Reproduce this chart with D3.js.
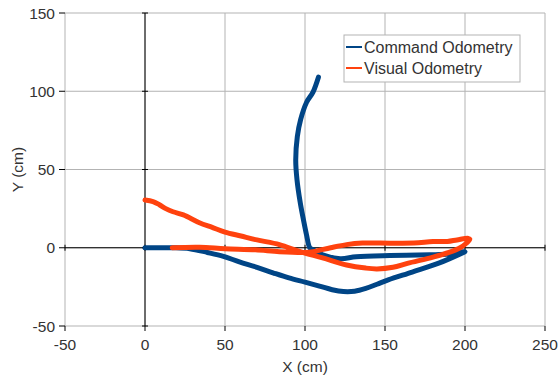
<!DOCTYPE html>
<html>
<head>
<meta charset="utf-8">
<script src="https://cdn.jsdelivr.net/npm/d3@7"></script>
<style>
  body { margin: 0; background: #fff; }
  text { font-family: "Liberation Sans", Arial, sans-serif; fill: #333; }
</style>
</head>
<body>
<div id="chart"></div>
<script>
const xTicks = [-50, 0, 50, 100, 150, 200, 250];
const yTicks = [-50, 0, 50, 100, 150];
const seriesNames = ["Command Odometry", "Visual Odometry"];

// command odometry path (x, y in cm)
const commandX = [0, 10, 18, 28, 39, 49, 59, 70, 80, 90, 100, 109, 117, 124, 131, 138, 145, 152, 167, 184, 199,
  200, 190, 178, 153, 132, 122, 111, 105, 103, 101, 99, 97, 95, 94.2, 95.2, 97.3, 101, 105, 108.4];
const commandY = [0, 0, 0, -0.6, -3, -5.5, -9, -12.5, -16, -19.3, -22, -24.5, -26.8, -28, -27.8, -26, -23.3, -20.5, -15.5, -9.7, -3,
  -2.5, -4, -4.5, -5, -5.8, -7, -4.5, -1.3, 0, 8, 18, 29, 43.5, 56, 71, 82, 93, 99.5, 109];

// visual odometry path (x, y in cm)
const visualX = [0, 5, 9, 13, 17.5, 24, 34, 42, 50, 60, 70, 84, 97, 111, 126, 138, 145, 155, 164, 180, 190, 197, 201, 203,
  202, 195, 189, 180, 168, 147, 136, 126, 116, 105, 100, 84, 69, 50, 34, 17];
const visualY = [30.5, 29.5, 27.5, 25, 23, 21, 16, 13, 10, 7.5, 5, 2, -2.5, -6.5, -11, -13, -13.5, -12.5, -10, -6, -3, 0, 3, 5.5,
  6, 5, 4, 4, 3, 3, 3, 2, 0, -2.5, -3, -2.5, -1.3, -0.6, 0.3, 0];

const colors = ["#004586", "#ff420e"];

const width = 559, height = 379;
const svg = d3.select("#chart").append("svg")
  .attr("width", width)
  .attr("height", height);

const x = d3.scaleLinear().domain([-50, 250]).range([65, 545]);
const y = d3.scaleLinear().domain([-50, 150]).range([326, 13]);

// grid
svg.append("g").selectAll("line")
  .data(xTicks)
  .enter().append("line")
  .attr("x1", d => x(d)).attr("x2", d => x(d))
  .attr("y1", y(150)).attr("y2", y(-50))
  .attr("stroke", "#b3b3b3");

svg.append("g").selectAll("line")
  .data(yTicks)
  .enter().append("line")
  .attr("x1", x(-50)).attr("x2", x(250))
  .attr("y1", d => y(d)).attr("y2", d => y(d))
  .attr("stroke", "#b3b3b3");

// axes crossing at zero
svg.append("line")
  .attr("x1", x(-50)).attr("x2", x(250))
  .attr("y1", y(0)).attr("y2", y(0))
  .attr("stroke", "#000");
svg.append("line")
  .attr("x1", x(0)).attr("x2", x(0))
  .attr("y1", y(150)).attr("y2", y(-50))
  .attr("stroke", "#000");

// tick marks
svg.append("g").selectAll("line")
  .data(yTicks)
  .enter().append("line")
  .attr("x1", x(-50) - 6).attr("x2", x(-50))
  .attr("y1", d => y(d)).attr("y2", d => y(d))
  .attr("stroke", "#000");
svg.append("g").selectAll("line")
  .data(yTicks)
  .enter().append("line")
  .attr("x1", x(0) - 3).attr("x2", x(0) + 3)
  .attr("y1", d => y(d)).attr("y2", d => y(d))
  .attr("stroke", "#000");
svg.append("g").selectAll("line")
  .data(xTicks)
  .enter().append("line")
  .attr("x1", d => x(d)).attr("x2", d => x(d))
  .attr("y1", y(-50)).attr("y2", y(-50) + 5)
  .attr("stroke", "#000");
svg.append("g").selectAll("line")
  .data(xTicks)
  .enter().append("line")
  .attr("x1", d => x(d)).attr("x2", d => x(d))
  .attr("y1", y(0) - 3).attr("y2", y(0) + 3)
  .attr("stroke", "#000");

// tick labels
svg.append("g").selectAll("text")
  .data(yTicks)
  .enter().append("text")
  .attr("x", 55)
  .attr("y", d => y(d) + 5.5)
  .attr("text-anchor", "end")
  .style("font-size", "15.5px")
  .text(d => d);

svg.append("g").selectAll("text")
  .data(xTicks)
  .enter().append("text")
  .attr("x", d => x(d))
  .attr("y", 350)
  .attr("text-anchor", "middle")
  .style("font-size", "15.5px")
  .text(d => d);

// axis titles
svg.append("text")
  .attr("x", (x(-50) + x(250)) / 2)
  .attr("y", 372)
  .attr("text-anchor", "middle")
  .style("font-size", "15.5px")
  .text("X (cm)");

svg.append("text")
  .attr("transform", `translate(23,${(y(150) + y(-50)) / 2}) rotate(-90)`)
  .attr("text-anchor", "middle")
  .style("font-size", "15.5px")
  .text("Y (cm)");

// series
const line = d3.line()
  .x(d => x(d[0]))
  .y(d => y(d[1]))
  .curve(d3.curveCatmullRom);

const series = [
  d3.zip(commandX, commandY),
  d3.zip(visualX, visualY)
];

series.forEach((pts, i) => {
  svg.append("path")
    .datum(pts)
    .attr("d", line)
    .attr("fill", "none")
    .attr("stroke", colors[i])
    .attr("stroke-width", 5)
    .attr("stroke-linejoin", "round")
    .attr("stroke-linecap", "round");
});

// legend
const legend = svg.append("g");
legend.append("rect")
  .attr("x", 344).attr("y", 35)
  .attr("width", 176).attr("height", 47)
  .attr("fill", "#fff")
  .attr("stroke", "#b3b3b3");

seriesNames.forEach((name, i) => {
  const ly = 47 + i * 21;
  legend.append("line")
    .attr("x1", 346).attr("x2", 362)
    .attr("y1", ly).attr("y2", ly)
    .attr("stroke", colors[i])
    .attr("stroke-width", 2);
  legend.append("text")
    .attr("x", 364)
    .attr("y", ly + 6)
    .style("font-size", "16px")
    .text(name);
});
</script>
</body>
</html>
